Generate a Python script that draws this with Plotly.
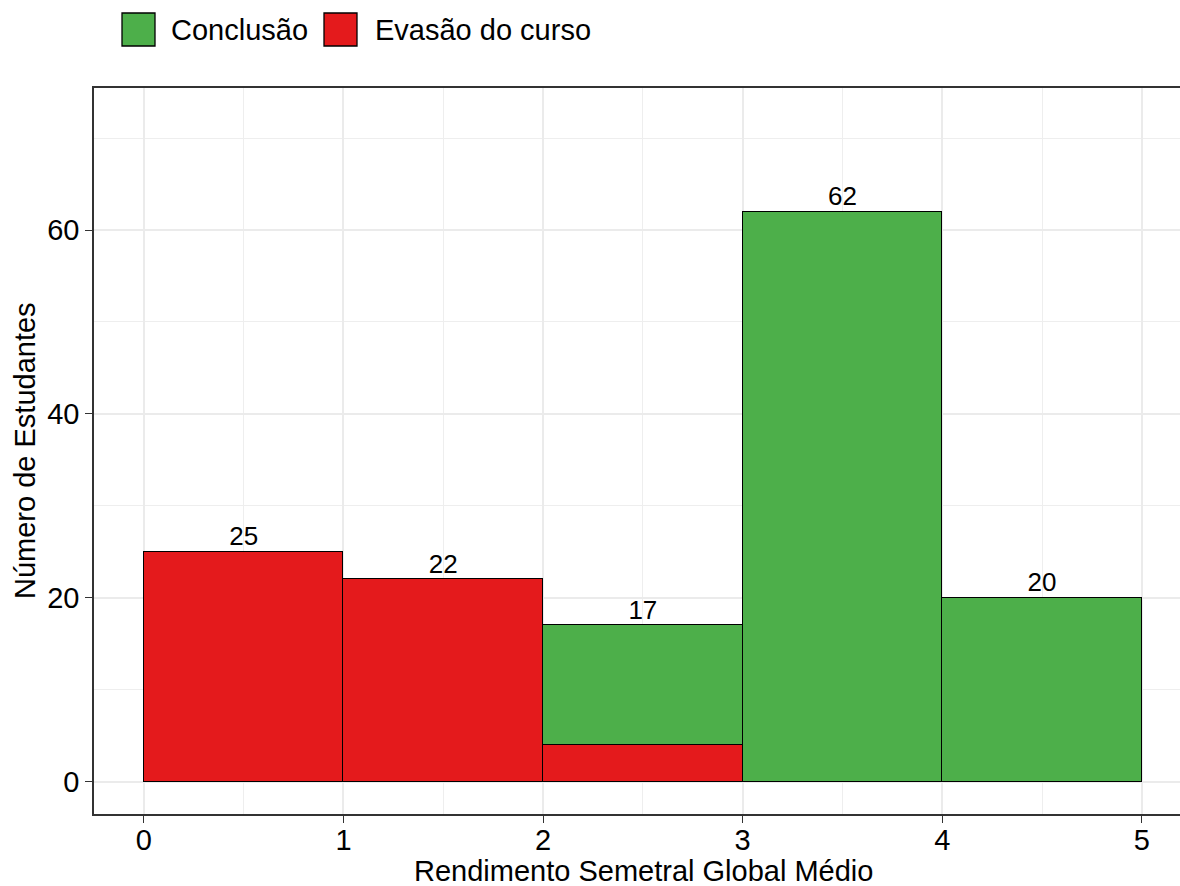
import plotly.graph_objects as go

centers = [0.5, 1.5, 2.5, 3.5, 4.5]
evasao = [25, 22, 4, None, None]
conclusao = [None, None, 13, 62, 20]
totals = [25, 22, 17, 62, 20]
labels = ["25", "22", "17", "62", "20"]
x_ticks = [0, 1, 2, 3, 4, 5]
y_ticks = [0, 20, 40, 60]

GREEN = "#4DAF4A"
RED = "#E41A1C"
FONT = "Liberation Sans, Arial, sans-serif"
FS = 29

W, H = 1180, 886
L, R, T, B = 94, 0, 88, 72

fig = go.Figure()
fig.add_trace(go.Bar(x=centers, y=evasao, width=1, marker=dict(color=RED, line=dict(color="black", width=1.3)),
                     name="Evasão do curso", showlegend=False))
fig.add_trace(go.Bar(x=centers, y=conclusao, width=1, marker=dict(color=GREEN, line=dict(color="black", width=1.3)),
                     name="Conclusão", showlegend=False))
fig.add_trace(go.Scatter(x=centers, y=totals, text=labels, mode="text", textposition="top center",
                         textfont=dict(size=26, color="black", family=FONT), showlegend=False, cliponaxis=False))

pw = W - L - R
ph = H - T - B
def px(x):
    return (x - L) / pw
def py(y):
    return (H - B - y) / ph

# legend
legend_items = [("Conclusão", GREEN, 122, 169), ("Evasão do curso", RED, 324, 373)]
for name, col, bx, tx in legend_items:
    fig.add_shape(type="rect", xref="paper", yref="paper", x0=px(bx), x1=px(bx + 33), y0=py(46), y1=py(13),
                  fillcolor=col, line=dict(color="black", width=1.3))
    fig.add_annotation(xref="paper", yref="paper", x=px(tx), y=py(30), text=name, showarrow=False,
                       xanchor="left", yanchor="middle", font=dict(size=FS, color="black", family=FONT))

# axis titles
fig.add_annotation(xref="paper", yref="paper", x=px((144 + 1142) / 2), y=py(871), text="Rendimento Semetral Global Médio",
                   showarrow=False, xanchor="center", yanchor="middle", font=dict(size=FS, color="black", family=FONT))
fig.add_annotation(xref="paper", yref="paper", x=px(25), y=py(451), text="Número de Estudantes", textangle=-90,
                   showarrow=False, xanchor="center", yanchor="middle", font=dict(size=FS, color="black", family=FONT))

axis_common = dict(showline=True, linecolor="#333333", linewidth=1.6, ticks="outside", ticklen=7,
                   tickcolor="#333333", tickwidth=1.4, showgrid=True, gridcolor="#EBEBEB", gridwidth=1.6,
                   zeroline=False, tickfont=dict(size=FS, color="black", family=FONT))

fig.update_layout(
    width=W, height=H, barmode="stack", bargap=0,
    margin=dict(l=L, r=R, t=T, b=B),
    plot_bgcolor="white", paper_bgcolor="white",
    font=dict(family=FONT, color="black"),
    xaxis=dict(range=[-0.25, (W - 143.3) / 199.7], tickvals=x_ticks, mirror=True, ticklabelstandoff=-8,
               minor=dict(dtick=0.5, tick0=0.5, showgrid=True, gridcolor="#EEEEEE", gridwidth=0.9, ticks=""),
               **axis_common),
    yaxis=dict(range=[-3.52, 75.45], tickvals=y_ticks, mirror=False,
               minor=dict(dtick=10, tick0=10, showgrid=True, gridcolor="#EEEEEE", gridwidth=0.9, ticks=""),
               **axis_common),
)

fig.write_html("out.html", config={"displayModeBar": False}, post_script="document.body.style.margin='0';")
